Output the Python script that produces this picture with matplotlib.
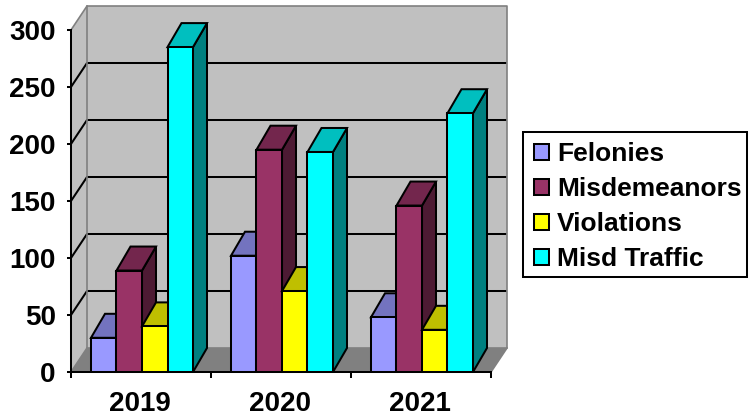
import matplotlib
matplotlib.use("Agg")
import matplotlib.pyplot as plt
from matplotlib.patches import Polygon, Patch, Rectangle
from matplotlib.legend_handler import HandlerPatch
import numpy as np

plt.rcParams['font.family'] = ['Liberation Sans', 'DejaVu Sans']
plt.rcParams['font.weight'] = 'bold'

years = ['2019', '2020', '2021']
felonies = [30, 102, 48]
misdemeanors = [89, 195, 146]
violations = [40, 71, 37]
misd_traffic = [285, 193, 227]

names = ['Felonies', 'Misdemeanors', 'Violations', 'Misd Traffic']
series = [felonies, misdemeanors, violations, misd_traffic]
front = ['#9999FF', '#993366', '#FFFF00', '#00FFFF']
top = ['#7373BF', '#73264D', '#BFBF00', '#00BFBF']
side = ['#4D4D80', '#4D1A33', '#808000', '#008080']
yticks = [0, 50, 100, 150, 200, 250, 300]

W, H = 755, 417
fig = plt.figure(figsize=(W / 100, H / 100), dpi=100)
ax = fig.add_axes([71 / W, 1 - 372 / H, 420 / W, 342 / H])
ax.set_xlim(0, 3)
ax.set_ylim(0, 300)

# fake 3d depth, in data units (16px across, 24px up)
dx = 16 / 140
dy = 24 / 1.14
bar_dx = 14 / 140  # bars are a bit shallower than the walls
lw = 1.45


def poly(pts, color, z, edge='none'):
    ax.add_patch(Polygon(pts, closed=True, facecolor=color, edgecolor=edge,
                         linewidth=lw, zorder=z, clip_on=False, joinstyle='miter'))


ax.patch.set_visible(False)
# walls and floor
poly([(0, 0), (dx, dy), (dx, 300 + dy), (0, 300)], '#C0C0C0', 1)
poly([(dx, dy), (3 + dx, dy), (3 + dx, 300 + dy), (dx, 300 + dy)], '#C0C0C0', 1)
poly([(0, 0), (3, 0), (3 + dx, dy), (dx, dy)], '#808080', 1)

for v in yticks[1:-1]:
    ax.plot([0, dx, 3 + dx - 0.01], [v, v + dy, v + dy], color='black', lw=lw,
            zorder=1.5, clip_on=False, solid_joinstyle='miter')
gray = dict(color='#808080', lw=1.2, zorder=1.6, clip_on=False)
ax.plot([0, dx, dx], [0, dy, 300 + dy], **gray)
ax.plot([0, dx, 3 + dx, 3 + dx, 3], [300, 300 + dy, 300 + dy, dy, 0], **gray)
ax.plot([dx, 3 + dx], [dy, dy], **gray)

# 3d bars, drawn left to right so each one covers the side of the last
bar_w = 25.5 / 140
left_gap = 20 / 140
pos = np.arange(len(years))
for i, vals in enumerate(series):
    xs = pos + left_gap + i * bar_w
    for x, v in zip(xs, vals):
        poly([(x + bar_w, 0), (x + bar_w + bar_dx, dy), (x + bar_w + bar_dx, v + dy), (x + bar_w, v)],
             side[i], 3 + i, 'black')
        poly([(x, v), (x + bar_w, v), (x + bar_w + bar_dx, v + dy), (x + bar_dx, v + dy)],
             top[i], 3 + i, 'black')
    ax.bar(xs, vals, bar_w, align='edge', color=front[i], edgecolor='black',
           linewidth=lw, zorder=3 + i, clip_on=False)

for s in ['top', 'right']:
    ax.spines[s].set_visible(False)
for s in ['left', 'bottom']:
    ax.spines[s].set_linewidth(lw)

ax.set_yticks(yticks)
ax.tick_params(axis='y', length=3, width=lw, pad=8, labelsize=20)
ax.set_xticks(range(4))
ax.set_xticklabels([])
ax.tick_params(axis='x', which='major', length=4, width=lw)
ax.set_xticks(pos + 0.49, minor=True)
ax.set_xticklabels(years, minor=True, fontsize=20)
ax.tick_params(axis='x', which='minor', length=0, pad=14)

# legend box drawn by hand so its size is fixed, legend itself has no frame
fig.add_artist(Rectangle((523 / W, 1 - 277 / H), 224 / W, 145 / H, transform=fig.transFigure,
                         facecolor='white', edgecolor='black', linewidth=lw, zorder=-1))
proxies = [Patch(facecolor=c, edgecolor='black', linewidth=lw, label=n)
           for c, n in zip(front, names)]
leg = ax.legend(handles=proxies, loc='upper left',
                bbox_to_anchor=(522 / W, 1 - 135 / H), bbox_transform=fig.transFigure,
                borderaxespad=0, frameon=False,
                prop={'family': 'Liberation Sans', 'weight': 'bold', 'size': 19},
                handler_map={Patch: HandlerPatch(xpad=0.17)},
                handlelength=0.74, handleheight=0.57, handletextpad=0.3,
                labelspacing=0.417, borderpad=0.28)
leg.set_zorder(20)

fig.savefig('out.png', dpi=100)
